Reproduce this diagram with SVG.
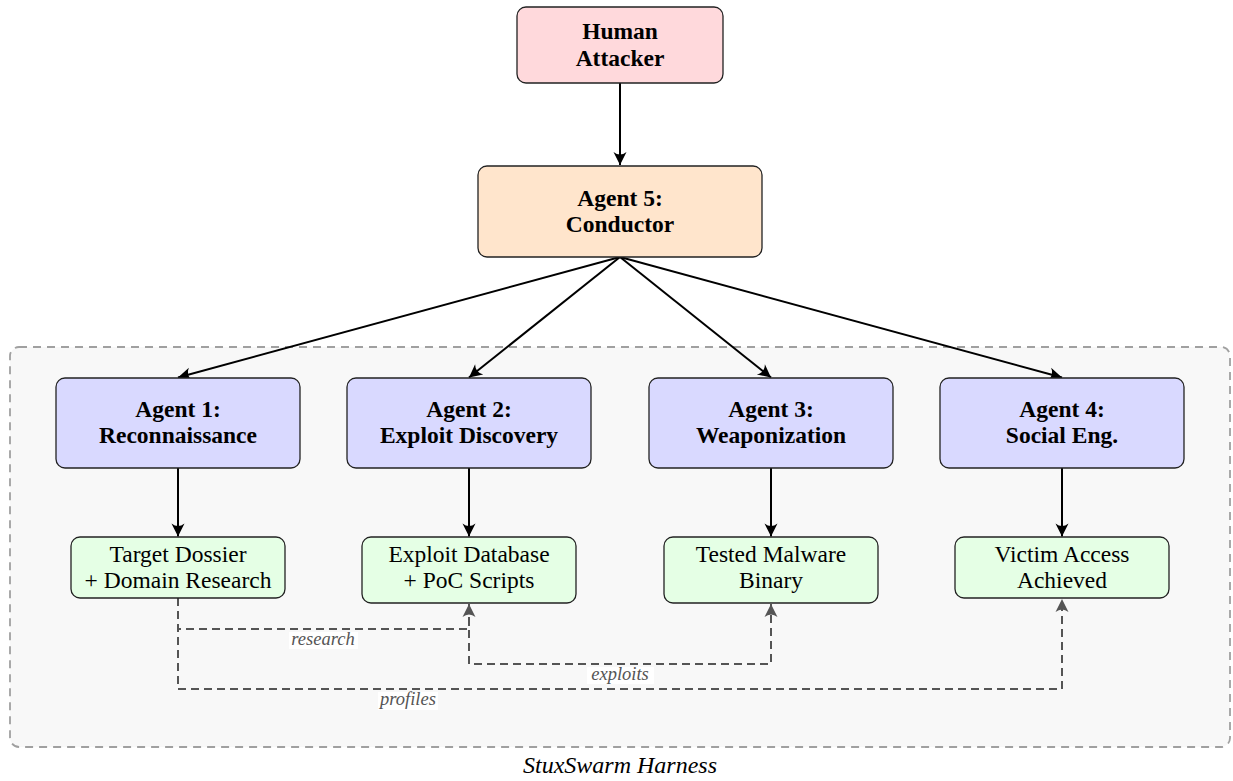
<svg xmlns="http://www.w3.org/2000/svg" width="1233" height="781" viewBox="0 0 1233 781">
<defs>
<style>
.box{stroke:#222;stroke-width:1.3}
.human{fill:#FFD9DC}
.cond{fill:#FFE5CC}
.agent{fill:#D9D9FF}
.out{fill:#E5FFE5}
.bt{font-family:"Liberation Serif","Times New Roman",serif;font-weight:bold;font-size:23.5px;fill:#000;text-anchor:middle}
.rt{font-family:"Liberation Serif","Times New Roman",serif;font-size:23.5px;fill:#000;text-anchor:middle}
.lbl{font-family:"Liberation Serif","Times New Roman",serif;font-style:italic;font-size:18.5px;fill:#555;text-anchor:middle}
.title{font-family:"Liberation Serif","Times New Roman",serif;font-style:italic;font-size:24px;fill:#000;text-anchor:middle}
.solid{fill:none;stroke:#000;stroke-width:2;marker-end:url(#ah)}
.dash{fill:none;stroke:#555;stroke-width:2;stroke-dasharray:8,5;marker-end:url(#ahg)}
</style>
<marker id="ah" markerWidth="16" markerHeight="14" viewBox="-14 -7 16 14" refX="0" refY="0" orient="auto" markerUnits="userSpaceOnUse">
<path d="M0,0 L-13,-6.5 Q-8,0 -13,6.5 Z" fill="#000"/>
</marker>
<marker id="ahg" markerWidth="16" markerHeight="14" viewBox="-14 -7 16 14" refX="0" refY="0" orient="auto" markerUnits="userSpaceOnUse">
<path d="M0,0 L-13,-6.5 Q-8,0 -13,6.5 Z" fill="#555"/>
</marker>
</defs>
<rect width="1233" height="781" fill="#fff"/>
<g id="container">
<rect x="10" y="347" width="1220" height="400" rx="9" fill="#F8F8F8" stroke="#A0A0A0" stroke-width="1.8" stroke-dasharray="8,6"/>
<text class="title" x="620" y="773">StuxSwarm Harness</text>
</g>
<g id="connectors">
<path class="solid" d="M620,83 L620,165"/>
<path class="solid" d="M620,257 L178,377.5"/>
<path class="solid" d="M620,257 L469,377.5"/>
<path class="solid" d="M620,257 L771,377.5"/>
<path class="solid" d="M620,257 L1062,377.5"/>
<path class="solid" d="M178,468 L178,536.5"/>
<path class="solid" d="M469,468 L469,536.5"/>
<path class="solid" d="M771,468 L771,536.5"/>
<path class="solid" d="M1062,468 L1062,536.5"/>
<path class="dash" d="M178,598 L178,629 L469,629 L469,604"/>
<path class="dash" d="M469,604 L469,664 L771,664 L771,604"/>
<path class="dash" d="M178,598 L178,689 L1062,689 L1062,599"/>
<rect x="289" y="632" width="69" height="17" fill="#fff"/>
<text class="lbl" x="323" y="645">research</text>
<rect x="587" y="667" width="67" height="17" fill="#fff"/>
<text class="lbl" x="620" y="680">exploits</text>
<rect x="378" y="692" width="60" height="18" fill="#fff"/>
<text class="lbl" x="408" y="705">profiles</text>
</g>
<g id="human">
<rect class="box human" x="517" y="7" width="206" height="76" rx="9"/>
<text class="bt" x="620" y="39">Human</text>
<text class="bt" x="620" y="66">Attacker</text>
</g>
<g id="conductor">
<rect class="box cond" x="478" y="166" width="284" height="91" rx="9"/>
<text class="bt" x="620" y="206">Agent 5:</text>
<text class="bt" x="620" y="232">Conductor</text>
</g>
<g id="agent1">
<rect class="box agent" x="56" y="378" width="244" height="90" rx="9"/>
<text class="bt" x="178" y="417">Agent 1:</text>
<text class="bt" x="178" y="443">Reconnaissance</text>
</g>
<g id="agent2">
<rect class="box agent" x="347" y="378" width="244" height="90" rx="9"/>
<text class="bt" x="469" y="417">Agent 2:</text>
<text class="bt" x="469" y="443">Exploit Discovery</text>
</g>
<g id="agent3">
<rect class="box agent" x="649" y="378" width="244" height="90" rx="9"/>
<text class="bt" x="771" y="417">Agent 3:</text>
<text class="bt" x="771" y="443">Weaponization</text>
</g>
<g id="agent4">
<rect class="box agent" x="940" y="378" width="244" height="90" rx="9"/>
<text class="bt" x="1062" y="417">Agent 4:</text>
<text class="bt" x="1062" y="443">Social Eng.</text>
</g>
<g id="out1">
<rect class="box out" x="71" y="537" width="214" height="61" rx="9"/>
<text class="rt" x="178" y="562">Target Dossier</text>
<text class="rt" x="178" y="588">+ Domain Research</text>
</g>
<g id="out2">
<rect class="box out" x="362" y="537" width="214" height="66" rx="9"/>
<text class="rt" x="469" y="562">Exploit Database</text>
<text class="rt" x="469" y="588">+ PoC Scripts</text>
</g>
<g id="out3">
<rect class="box out" x="664" y="537" width="214" height="66" rx="9"/>
<text class="rt" x="771" y="562">Tested Malware</text>
<text class="rt" x="771" y="588">Binary</text>
</g>
<g id="out4">
<rect class="box out" x="955" y="537" width="214" height="61" rx="9"/>
<text class="rt" x="1062" y="562">Victim Access</text>
<text class="rt" x="1062" y="588">Achieved</text>
</g>
</svg>
